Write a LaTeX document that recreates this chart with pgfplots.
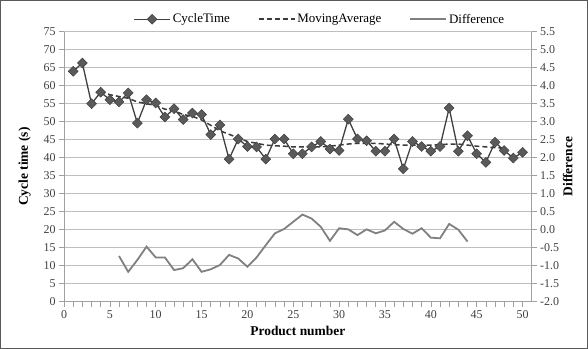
\documentclass[border=0pt]{standalone}
\usepackage{pgfplots}
\usepackage{pgfplotstable}
\pgfplotsset{compat=1.18}
\usepackage{fontspec}
\setmainfont{Liberation Serif}

\definecolor{ctline}{HTML}{404040}
\definecolor{ctfill}{HTML}{5A5A5A}
\definecolor{maline}{HTML}{3A3A3A}
\definecolor{diffline}{HTML}{808080}
\definecolor{gridc}{HTML}{BEBEBE}
\definecolor{axisc}{HTML}{A0A0A0}
\definecolor{tickc}{HTML}{404040}

\pgfplotstableread{
x y
1 64.0
2 66.3
3 55.0
4 58.2
5 56.1
6 55.5
7 58.0
8 49.6
9 56.1
10 55.2
11 51.3
12 53.6
13 50.6
14 52.4
15 52.0
16 46.4
17 49.1
18 39.6
19 45.2
20 43.1
21 43.0
22 39.6
23 45.2
24 45.2
25 41.1
26 41.1
27 43.0
28 44.5
29 42.4
30 42.0
31 50.7
32 45.2
33 44.7
34 41.8
35 41.8
36 45.2
37 36.9
38 44.5
39 43.1
40 41.8
41 43.1
42 53.8
43 41.8
44 46.1
45 41.1
46 38.7
47 44.3
48 42.0
49 39.9
50 41.5
}\ct

\pgfplotstableread{
x y
4 58.5
5 57.5
6 57.0
7 56.5
8 55.5
9 55.0
10 54.5
11 53.5
12 53.0
13 52.0
14 51.5
15 50.5
16 49.0
17 47.5
18 46.5
19 45.5
20 44.5
21 44.0
22 43.5
23 43.3
24 43.2
25 43.0
26 43.0
27 43.0
28 43.0
29 43.2
30 43.5
31 43.8
32 44.0
33 44.0
34 44.0
35 43.8
36 43.6
37 43.5
38 43.5
39 43.5
40 43.5
41 43.6
42 43.8
43 43.8
44 43.5
45 43.2
46 43.0
47 42.8
48 42.6
}\ma

\pgfplotstableread{
x y
6 -0.73
7 -1.17
8 -0.84
9 -0.47
10 -0.77
11 -0.77
12 -1.12
13 -1.07
14 -0.82
15 -1.17
16 -1.10
17 -0.98
18 -0.70
19 -0.80
20 -1.03
21 -0.77
22 -0.43
23 -0.10
24 0.02
25 0.22
26 0.42
27 0.31
28 0.08
29 -0.31
30 0.04
31 0.01
32 -0.15
33 0.01
34 -0.10
35 -0.02
36 0.22
37 0.02
38 -0.11
39 0.04
40 -0.22
41 -0.24
42 0.16
43 0.00
44 -0.33
}\diff

\begin{document}
\begin{tikzpicture}
\useasboundingbox (-64bp,-47.3bp) rectangle (524bp,301.7bp);
\draw[draw=gray!70!black, line width=0.8bp] (-63.6bp,-46.9bp) rectangle (523.6bp,301.3bp);
\pgfplotsset{
  common/.style={
    at={(0,0)}, anchor=south west,
    scale only axis, width=467.7bp, height=270bp,
    xmin=0, xmax=51,
    tick label style={font=\fontsize{12}{12}\selectfont, text=tickc},
    /pgf/number format/assume math mode=true,
    tick align=outside,
    major tick length=5bp, minor tick length=5bp,
    every tick/.style={draw=axisc, line width=0.6bp},
    axis line style={draw=axisc, line width=0.8bp},
    label style={font=\fontsize{13.5}{14}\selectfont\bfseries, text=black},
    legend image code/.code={
      \draw[mark repeat=2, mark phase=2, ##1] plot coordinates {(0bp,0bp) (18bp,0bp) (36bp,0bp)};
    },
  }
}
\begin{axis}[common,
  ymin=0, ymax=75, ytick={0,5,...,75},
  xtick={0,5,...,50}, minor x tick num=4,
  axis x line*=bottom, axis y line*=left,
  ymajorgrids, grid style={draw=gridc, line width=0.8bp},
  xlabel={Product number}, ylabel={Cycle time (s)},
  xlabel style={yshift=-1bp},
  ylabel style={yshift=6bp},
  clip=false,
]
\addplot[maline, line width=1.5bp, dash pattern=on 5bp off 3bp] table[x=x,y=y] {\ma};
\addplot[ctline, line width=1.3bp, mark=square*, mark size=3.5bp,
  mark options={rotate=45, fill=ctfill, draw=ctline, line width=0.5bp, solid}] table[x=x,y=y] {\ct};
\end{axis}
\begin{axis}[common,
  ymin=-2, ymax=5.5, ytick={-2,-1.5,...,5.5},
  hide x axis,
  axis y line*=right,
  yticklabel style={/pgf/number format/.cd, fixed, fixed zerofill, precision=1},
  ylabel={Difference},
  ylabel style={yshift=3bp},
  legend style={at={(0.5,1)}, anchor=south, yshift=3bp, xshift=22bp, draw=none, fill=none,
    font=\fontsize{13}{13}\selectfont, legend columns=3,
    /tikz/every even column/.append style={column sep=26bp}},
  legend cell align=left,
]
\addlegendimage{ctline, line width=1.3bp, mark=square*, mark size=3.5bp,
  mark options={rotate=45, fill=ctfill, draw=ctline, line width=0.5bp, solid}}
\addlegendentry{CycleTime}
\addlegendimage{maline, line width=1.5bp, dash pattern=on 5bp off 3bp}
\addlegendentry{MovingAverage}
\addplot[diffline, line width=1.8bp] table[x=x,y=y] {\diff};
\addlegendentry{Difference}
\end{axis}
\end{tikzpicture}
\end{document}
